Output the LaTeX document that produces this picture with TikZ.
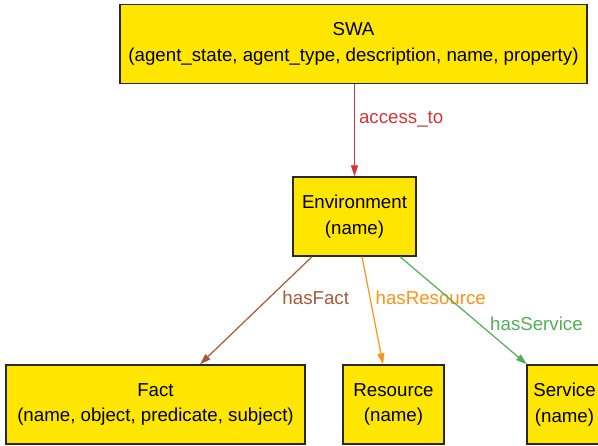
\documentclass[tikz,border=0pt]{standalone}
\usepackage{fontspec}
\setmainfont{Liberation Sans}
\usetikzlibrary{arrows.meta,calc}

\definecolor{boxyellow}{RGB}{255,230,0}
\definecolor{boxedge}{RGB}{45,40,30}
\definecolor{accessred}{RGB}{214,50,55}
\definecolor{factbrown}{RGB}{165,90,55}
\definecolor{resorange}{RGB}{255,145,20}
\definecolor{servgreen}{RGB}{80,175,85}

\tikzset{
  entity/.style={
    rectangle, draw=boxedge, line width=1.4pt, fill=boxyellow, inner sep=0pt,
    minimum height=79pt, align=center, text=black,
    font=\fontsize{18.7}{25.5}\selectfont
  },
  relation/.style={
    line width=1.2pt, -{Triangle[length=11pt,width=7pt]}
  },
  rel label/.style={
    inner sep=0pt, anchor=west, font=\fontsize{18.7}{22}\selectfont
  }
}

\begin{document}
\begin{tikzpicture}[x=1pt,y=-1pt]
\useasboundingbox (0,0) rectangle (598,446);
\clip (0,0) rectangle (598,446);

% top: the agent
\node[entity, minimum width=467pt] (swa) at (353.5,44)
  {SWA\\(agent\_state, agent\_type, description, name, property)};

% middle: environment
\node[entity, minimum width=123pt] (env) at (354.5,216.5) {Environment\\(name)};

% bottom row
\node[entity, minimum width=299pt] (fact) at (155.5,404.5)
  {Fact\\(name, object, predicate, subject)};
\node[entity, minimum width=101pt] (res)  at (393.5,404.5) {Resource\\(name)};
\node[entity, minimum width=75pt]  (serv) at (564.5,404.5) {Service\\(name)};

% relations
\draw[relation, accessred] (env.north |- swa.south) --
  node[rel label, pos=0.38, xshift=4pt] {access\_to} (env.north);
\draw[relation, factbrown] ($(env.south)+(-42.5,0)$) --
  node[rel label, pos=0.385, xshift=13pt] {hasFact} ($(fact.north)+(44.5,0)$);
\draw[relation, resorange] ($(env.south)+(7.5,0)$) --
  node[rel label, pos=0.385, xshift=5pt] {hasResource} ($(res.north)+(-10.5,0)$);
\draw[relation, servgreen] ($(env.south)+(45.5,0)$) --
  node[rel label, pos=0.62, xshift=11pt] {hasService} ($(serv.north west)+(0.5,0)$);

\end{tikzpicture}
\end{document}
